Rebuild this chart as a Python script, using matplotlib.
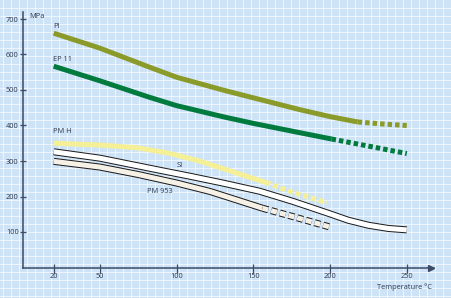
import numpy as np
import matplotlib
matplotlib.use('Agg')
import matplotlib.pyplot as plt

plt.rcParams['font.family'] = ['Open Sans', 'DejaVu Sans']
plt.rcParams['lines.scale_dashes'] = False

# data (temperature in °C, strength in MPa)
pi_t = [20, 50, 82, 100, 131, 150, 180, 200, 218]
pi_v = [660, 618, 565, 536, 499, 478, 445, 425, 410]
pi_dash_t = [218, 235, 250]
pi_dash_v = [410, 404, 400]

ep_t = [20, 50, 82, 100, 131, 150, 180, 201]
ep_v = [567, 526, 480, 456, 424, 406, 380, 362]
ep_dash_t = [201, 225, 250]
ep_dash_v = [362, 342, 321]

pmh_t = [20, 50, 75, 95, 115, 135, 158]
pmh_v = [350, 345, 337, 322, 300, 272, 240]
pmh_dash_t = [158, 176, 198]
pmh_dash_v = [240, 211, 183]

si_t = [20, 50, 89, 110, 130, 154, 176, 198, 212, 225, 238, 250]
si_v = [326, 308, 274, 256, 238, 215, 186, 154, 133, 119, 110, 106]

pm953_t = [20, 50, 75, 100, 122, 156]
pm953_v = [299, 283, 262, 238, 214, 167]
pm953_dash_t = [156, 177, 200]
pm953_dash_v = [167, 142, 114]

x_ticks = [20, 50, 100, 150, 200, 250]
y_ticks = [100, 200, 300, 400, 500, 600, 700]

PX = 0.72  # points per pixel at 100 dpi
axis_col = '#3c4a66'
text_col = '#2b3550'

fig = plt.figure(figsize=(4.52, 2.98), dpi=100)

# light blue graph paper background
bg = fig.add_axes([0, 0, 1, 1])
bg.set_facecolor('#cfe3f6')
bg.set_xlim(0, 452)
bg.set_ylim(0, 298)
bg.set_xticks(np.arange(3, 452, 8))
bg.set_yticks(np.arange(2, 298, 8))
bg.grid(color='white', lw=0.5, alpha=0.9)
bg.tick_params(length=0, labelbottom=False, labelleft=False)
for s in bg.spines.values():
    s.set_visible(False)

ax = fig.add_axes([23 / 452, 30.5 / 298, 411.4 / 452, 255.6 / 298])
ax.patch.set_alpha(0)
ax.set_xlim(0, 268)
ax.set_ylim(0, 720)


def band(t, v, color, width, dash=None):
    line, = ax.plot(t, v, color=color, lw=width * PX, solid_capstyle='butt',
                    dash_capstyle='butt', solid_joinstyle='round', zorder=3)
    if dash:
        line.set_dashes([d * PX for d in dash])


def outlined(t, v, fill, dash=None):
    band(t, v, '#1a1a1a', 7, dash)
    band(t, v, fill, 5, dash)


band(pi_t, pi_v, '#8b9b2a', 5)
band(pi_dash_t, pi_dash_v, '#8b9b2a', 5, (4.5, 3))
band(ep_t, ep_v, '#007a3d', 5)
band(ep_dash_t, ep_dash_v, '#007a3d', 5, (4.5, 3))
band(pmh_t, pmh_v, '#f5f096', 5)
band(pmh_dash_t, pmh_dash_v, '#f5f096', 5, (5, 3))
outlined(pm953_t, pm953_v, '#f6f1e6')
outlined(pm953_dash_t, pm953_dash_v, '#f6f1e6', (6, 3))
outlined(si_t, si_v, 'white')

# axes
for side in ['top', 'right']:
    ax.spines[side].set_visible(False)
for side in ['left', 'bottom']:
    ax.spines[side].set_color(axis_col)
    ax.spines[side].set_linewidth(1.1)
ax.plot(266, 0, marker='>', ms=4.5, color=axis_col, clip_on=False, zorder=4)

ax.set_xticks(x_ticks)
ax.set_yticks(y_ticks)
ax.tick_params(axis='x', direction='inout', length=9 * PX, width=0.9, color=axis_col,
               labelsize=5.3, labelcolor=text_col, pad=1)
ax.tick_params(axis='y', direction='inout', length=6 * PX, width=0.9, color=axis_col,
               labelsize=5.3, labelcolor=text_col, pad=1)

lbl = dict(fontsize=5.3, color=text_col, va='center')
ax.text(4, 708, 'MPa', ha='left', **lbl)
ax.text(19.5, 680, 'PI', ha='left', **lbl)
ax.text(19.5, 585, 'EP 11', ha='left', **lbl)
ax.text(19.5, 384, 'PM H', ha='left', **lbl)
ax.text(102, 286, 'SI', ha='center', **lbl)
ax.text(81, 215, 'PM 953', ha='left', **lbl)
ax.text(230.5, -55, 'Temperature °C', ha='left', clip_on=False, **lbl)

fig.savefig('out.png', dpi=100)
